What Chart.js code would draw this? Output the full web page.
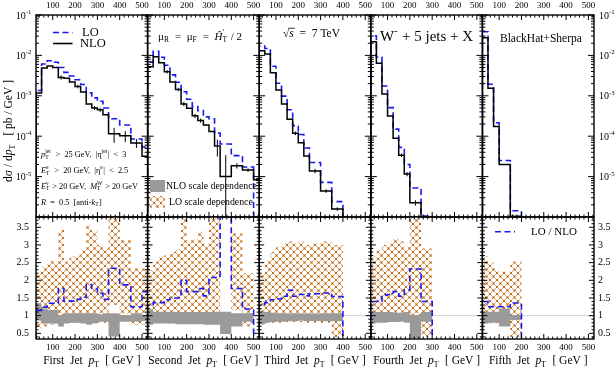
<!DOCTYPE html>
<html>
<head>
<meta charset="utf-8">
<title>W- + 5 jets: jet pT distributions</title>
<script src="https://cdn.jsdelivr.net/npm/chart.js@4.4.1/dist/chart.umd.min.js"></script>
<style>
  html, body { margin: 0; padding: 0; background: #fff; }
  #wrap { position: relative; width: 616px; height: 369px; overflow: hidden; }
  #wrap canvas { position: absolute; left: 0; top: 0; }
</style>
</head>
<body>
<div id="wrap"></div>
<script>
// Axis ranges (GeV on x, pb/GeV on top, LO/NLO on bottom)
const X_MIN = 25, X_MAX = 525;
const TOP_MIN = 1e-6, TOP_MAX = 1e-1;
const RATIO_MIN = 0.34, RATIO_MAX = 3.79;

const jetNames = ['First', 'Second', 'Third', 'Fourth', 'Fifth'];
const xTickLabels = [100, 200, 300, 400, 500];
const ratioTickLabels = [0.5, 1, 1.5, 2, 2.5, 3, 3.5];
const decadeTickLabels = [-5, -4, -3, -2, -1];

// First jet
const jet1Edges = [25, 50, 75, 100, 125, 150, 175, 200, 225, 250, 275, 300, 325, 350, 400, 450, 500, 550];
const jet1Nlo = [1.17e-3, 4.9e-3, 5.5e-3, 5.0e-3, 2.85e-3, 2.7e-3, 2.2e-3, 1.7e-3, 1.25e-3, 6.3e-4, 5.0e-4, 4.5e-4, 3.4e-4, 1.15e-4, 1.02e-4, 6.8e-5, 3.2e-5];
const jet1Lo = [1.35e-3, 6.1e-3, 7.4e-3, 6.75e-3, 5.0e-3, 3.8e-3, 3.1e-3, 2.5e-3, 1.9e-3, 1.18e-3, 8.9e-4, 7.3e-4, 5.0e-4, 2.7e-4, 1.9e-4, 8.5e-5, 5.4e-5];
const jet1Err = [0, 0, 0, 0, 0.12, 0, 0, 0.1, 0, 0, 0.12, 0.12, 0, 0.4, 0.3, 0.25, 0];
const jet1Ratio = [1.15, 1.24, 1.35, 1.35, 1.77, 1.41, 1.41, 1.46, 1.52, 1.88, 1.77, 1.63, 1.46, 2.34, 1.87, 1.25, 1.68];
const jet1NloBandHi = [1.35, 1.2, 1.16, 1.16, 1.02, 1.07, 1.07, 1.07, 1.07, 1.07, 1.07, 1.04, 1.07, 1.07, 1.02, 1.07, 1.02];
const jet1NloBandLo = [0.86, 0.78, 0.78, 0.78, 0.69, 0.78, 0.8, 0.8, 0.78, 0.74, 0.78, 0.83, 0.83, 0.41, 0.83, 0.83, 0.85];
const jet1LoBandHi = [2.24, 2.38, 2.57, 2.53, 3.42, 2.53, 2.67, 2.71, 2.85, 3.56, 3.42, 3.0, 2.9, 3.9, 3.14, 2.34, 2.34];
const jet1LoBandLo = [0.64, 0.69, 0.74, 0.74, 0.88, 0.8, 0.8, 0.8, 0.8, 0.8, 0.8, 0.8, 0.8, 1.3, 1.05, 0.74, 0.74];

// Second jet
const jet2Edges = [25, 50, 75, 100, 125, 150, 175, 200, 225, 250, 275, 300, 325, 350, 400, 450, 500, 550];
const jet2Nlo = [5.2e-3, 9.3e-3, 6.6e-3, 3.96e-3, 2.2e-3, 1.44e-3, 6.3e-4, 4.9e-4, 3.2e-4, 2.45e-4, 1.9e-4, 1.3e-4, 5.7e-5, 1.0e-5, 1.86e-5, 1.45e-5, 8.3e-6];
const jet2Lo = [6.8e-3, 1.27e-2, 9.0e-3, 5.7e-3, 3.3e-3, 2.16e-3, 1.26e-3, 8.2e-4, 5.4e-4, 4.3e-4, 3.0e-4, 2.7e-4, 1.19e-4, 6.4e-5, 3.3e-5, 1.73e-5, null];
const jet2Err = [0, 0, 0, 0.1, 0, 0.1, 0.12, 0, 0.12, 0.12, 0, 0, 0.45, 2.4, 0.15, 0.1, 0];
const jet2Ratio = [1.3, 1.37, 1.37, 1.45, 1.5, 1.5, 2.0, 1.68, 1.68, 1.77, 1.56, 2.08, 2.08, 6.4, 1.77, 1.19, null];
const jet2NloBandHi = [1.18, 1.11, 1.11, 1.11, 1.11, 1.1, 1.1, 1.1, 1.1, 1.1, 1.1, 1.1, 1.11, 1.11, 1.07, 1.07, null];
const jet2NloBandLo = [0.74, 0.78, 0.78, 0.78, 0.78, 0.76, 0.76, 0.76, 0.76, 0.76, 0.74, 0.74, 0.74, 0.48, 0.69, 0.83, null];
const jet2LoBandHi = [2.29, 2.53, 2.67, 2.71, 2.8, 2.87, 3.9, 3.14, 3.16, 3.37, 3.04, 3.9, 3.9, null, 3.33, 2.2, null];
const jet2LoBandLo = [0.75, 0.78, 0.78, 0.78, 0.78, 0.78, 0.8, 0.8, 0.8, 0.8, 0.8, 0.8, 0.8, null, 1.15, 0.69, null];

// Third jet
const jet3Edges = [25, 50, 75, 100, 125, 150, 175, 200, 225, 250, 300, 350, 400];
const jet3Nlo = [1.31e-2, 1.08e-2, 3.73e-3, 1.39e-3, 6.3e-4, 2.63e-4, 1.18e-4, 6.9e-5, 3.24e-5, 1.38e-5, 4.4e-6, 1.58e-6];
const jet3Lo = [1.7e-2, 1.48e-2, 5.4e-3, 2.04e-3, 9.8e-4, 4.5e-4, 1.83e-4, 1.1e-4, 5.1e-5, 2.24e-5, 7.2e-6, 2.4e-6];
const jet3Err = [0, 0, 0, 0, 0, 0, 0.1, 0, 0, 0.12, 0.1, 0.1];
const jet3Ratio = [1.3, 1.37, 1.45, 1.47, 1.55, 1.72, 1.55, 1.6, 1.56, 1.62, 1.64, 1.54];
const jet3NloBandHi = [1.12, 1.1, 1.08, 1.07, 1.07, 1.06, 1.07, 1.06, 1.06, 1.06, 1.07, 1.07];
const jet3NloBandLo = [0.76, 0.8, 0.82, 0.83, 0.83, 0.84, 0.84, 0.86, 0.84, 0.85, 0.84, 0.84];
const jet3LoBandHi = [2.2, 2.55, 2.8, 2.95, 3.05, 3.1, 3.05, 3.1, 3.0, 3.05, 3.1, 3.0];
const jet3LoBandLo = [0.75, 0.78, 0.8, 0.8, 0.82, 0.82, 0.82, 0.82, 0.8, 0.8, 0.8, 0.4];

// Fourth jet
const jet4Edges = [25, 50, 75, 100, 125, 150, 175, 200, 250, 300];
const jet4Nlo = [2.19e-2, 6.4e-3, 1.11e-3, 3.16e-4, 8.9e-5, 3.4e-5, 1.16e-5, 2.26e-6, 7.5e-7];
const jet4Lo = [3.07e-2, 9.0e-3, 1.75e-3, 5.1e-4, 1.5e-4, 5.3e-5, 2.0e-5, 5.2e-6, 1.05e-6];
const jet4Err = [0, 0, 0, 0, 0, 0.1, 0.12, 0.15, 0];
const jet4Ratio = [1.4, 1.4, 1.58, 1.6, 1.68, 1.55, 1.73, 2.32, 1.4];
const jet4NloBandHi = [1.11, 1.1, 1.1, 1.1, 1.08, 1.08, 1.1, 1.02, 1.1];
const jet4NloBandLo = [0.78, 0.8, 0.8, 0.82, 0.82, 0.83, 0.8, 0.36, 0.83];
const jet4LoBandHi = [2.67, 2.85, 3.0, 3.04, 3.18, 3.1, 2.95, 3.9, 2.9];
const jet4LoBandLo = [0.8, 0.83, 0.83, 0.83, 0.83, 0.83, 0.83, 0.85, 0.4];

// Fifth jet
const jet5Edges = [25, 50, 75, 100, 150, 200];
const jet5Nlo = [2.75e-2, 1.54e-3, 1.73e-4, 2.0e-5, 1.05e-6];
const jet5Lo = [3.85e-2, 1.93e-3, 2.16e-4, 2.5e-5, 1.43e-6];
const jet5Err = [0, 0, 0, 0, 0];
const jet5Ratio = [1.4, 1.25, 1.25, 1.25, 1.36];
const jet5NloBandHi = [1.11, 1.11, 1.11, 1.2, 1.02];
const jet5NloBandLo = [0.78, 0.8, 0.8, 0.69, 0.88];
const jet5LoBandHi = [2.67, 2.5, 2.35, 2.25, 2.53];
const jet5LoBandLo = [0.78, 0.78, 0.78, 0.78, 0.4];

const jets = [
  {edges: jet1Edges, nlo: jet1Nlo, lo: jet1Lo, err: jet1Err, ratio: jet1Ratio, nloHi: jet1NloBandHi, nloLo: jet1NloBandLo, loHi: jet1LoBandHi, loLo: jet1LoBandLo},
  {edges: jet2Edges, nlo: jet2Nlo, lo: jet2Lo, err: jet2Err, ratio: jet2Ratio, nloHi: jet2NloBandHi, nloLo: jet2NloBandLo, loHi: jet2LoBandHi, loLo: jet2LoBandLo},
  {edges: jet3Edges, nlo: jet3Nlo, lo: jet3Lo, err: jet3Err, ratio: jet3Ratio, nloHi: jet3NloBandHi, nloLo: jet3NloBandLo, loHi: jet3LoBandHi, loLo: jet3LoBandLo},
  {edges: jet4Edges, nlo: jet4Nlo, lo: jet4Lo, err: jet4Err, ratio: jet4Ratio, nloHi: jet4NloBandHi, nloLo: jet4NloBandLo, loHi: jet4LoBandHi, loLo: jet4LoBandLo},
  {edges: jet5Edges, nlo: jet5Nlo, lo: jet5Lo, err: jet5Err, ratio: jet5Ratio, nloHi: jet5NloBandHi, nloLo: jet5NloBandLo, loHi: jet5LoBandHi, loLo: jet5LoBandLo},
];

// layout of the 5 x 2 grid of panels
const PANEL_LEFT = 36, PANEL_W = 111.6;
const TOP_Y = 15, MID_Y = 217, BOTTOM_Y = 339;
const W = 616, H = 369;

const BLUE = 'rgb(25, 25, 245)';
const GRAY = 'rgb(154, 154, 154)';
const SERIF = '"Liberation Serif", "Times New Roman", serif';
const DASH = [6, 3.5];

Chart.defaults.animation = false;
const wrap = document.getElementById('wrap');

// orange dotted cross-hatch for the LO scale band
function makeHatch() {
  const c = document.createElement('canvas');
  c.width = 7; c.height = 7;
  const g = c.getContext('2d');
  g.fillStyle = '#fff';
  g.fillRect(0, 0, 7, 7);
  g.strokeStyle = 'rgb(228, 164, 98)';
  g.lineWidth = 0.9;
  g.beginPath();
  g.moveTo(0, 0); g.lineTo(7, 7);
  g.moveTo(7, 0); g.lineTo(0, 7);
  g.stroke();
  g.fillStyle = 'rgb(190, 108, 28)';
  g.fillRect(2.5, 2.5, 2, 2);
  g.fillRect(0, 0, 1, 1); g.fillRect(6, 0, 1, 1);
  g.fillRect(0, 6, 1, 1); g.fillRect(6, 6, 1, 1);
  return g.createPattern(c, 'repeat');
}
const HATCH = makeHatch();

// histogram outline: flat tops joined by vertical steps, dropping to `floor` at the ends
function histPoints(edges, vals, floor) {
  const pts = [];
  let open = false;
  for (let i = 0; i < vals.length; i++) {
    const v = vals[i];
    if (v == null) {
      if (open) pts.push({x: edges[i], y: floor}, {x: edges[i], y: null});
      open = false;
      continue;
    }
    if (!open) pts.push({x: edges[i], y: floor});
    pts.push({x: edges[i], y: v}, {x: edges[i + 1], y: v});
    open = true;
  }
  if (open) pts.push({x: edges[vals.length], y: floor});
  return pts;
}

// closed outline of a band (upper edge forward, lower edge back); missing bins collapse to `cap`
function bandPoints(edges, hi, lo, cap) {
  const up = [], down = [];
  for (let i = 0; i < hi.length; i++) {
    const h = hi[i] == null ? cap : hi[i];
    const l = lo[i] == null ? cap : lo[i];
    up.push({x: edges[i], y: h}, {x: edges[i + 1], y: h});
    down.push({x: edges[i], y: l}, {x: edges[i + 1], y: l});
  }
  return up.concat(down.reverse());
}

// vertical error bars at bin centres
function errPoints(edges, vals, errs) {
  const pts = [];
  for (let i = 0; i < vals.length; i++) {
    if (!errs[i] || vals[i] == null) continue;
    const c = (edges[i] + edges[i + 1]) / 2;
    const lo = errs[i] >= 1 ? 1e-8 : vals[i] * (1 - errs[i]);
    pts.push({x: c, y: lo}, {x: c, y: vals[i] * (1 + errs[i])}, {x: c, y: null});
  }
  return pts;
}

// text with italics, sub/superscripts: parts = [[text, mode], ...]
function drawRich(ctx, x, y, parts, size, align) {
  const small = size * 0.68;
  const items = [];
  let w = 0;
  for (const [t, m] of parts) {
    if (m === 'ss') {
      const [lo, hi] = t.split('|');
      ctx.font = small + 'px ' + SERIF;
      const w1 = ctx.measureText(lo).width, w2 = ctx.measureText(hi).width;
      items.push({t: lo, f: ctx.font, x: w, y: size * 0.3});
      items.push({t: hi, f: ctx.font, x: w, y: -size * 0.38});
      w += Math.max(w1, w2) + size * 0.08;
    } else if (m === 'sup' || m === 'sub') {
      ctx.font = small + 'px ' + SERIF;
      items.push({t, f: ctx.font, x: w, y: m === 'sup' ? -size * 0.38 : size * 0.3});
      w += ctx.measureText(t).width + size * 0.05;
    } else {
      ctx.font = (m === 'i' || m === 'ov' ? 'italic ' : '') + size + 'px ' + SERIF;
      const tw = ctx.measureText(t).width;
      items.push({t, f: ctx.font, x: w, y: 0, over: m === 'ov' ? tw : 0});
      w += tw;
    }
  }
  const x0 = align === 'center' ? x - w / 2 : align === 'right' ? x - w : x;
  ctx.textAlign = 'left';
  ctx.textBaseline = 'middle';
  for (const it of items) {
    ctx.font = it.f;
    ctx.fillText(it.t, x0 + it.x, y + it.y);
    if (it.over) {
      ctx.beginPath();
      ctx.lineWidth = 0.8;
      ctx.moveTo(x0 + it.x - 1, y - size * 0.5);
      ctx.lineTo(x0 + it.x + it.over + 1, y - size * 0.5);
      ctx.stroke();
    }
  }
}

// frame with inward ticks on all four sides, plus outer tick labels
function framePlugin(col, kind) {
  return {
    id: 'frame',
    beforeDatasetsDraw(chart) {
      if (kind !== 'ratio') return;
      const {ctx, chartArea: a, scales: {y}} = chart;
      const py = y.getPixelForValue(1);
      ctx.save();
      ctx.strokeStyle = '#d0d0d0';
      ctx.lineWidth = 1;
      ctx.beginPath();
      ctx.moveTo(a.left, py);
      ctx.lineTo(a.right, py);
      ctx.stroke();
      ctx.restore();
    },
    afterDraw(chart) {
      const {ctx, chartArea: a, scales: {x, y}} = chart;
      ctx.save();
      ctx.strokeStyle = '#000';
      ctx.fillStyle = '#000';
      ctx.lineWidth = 1;
      ctx.beginPath();
      for (let g = 40; g < X_MAX; g += 20) {
        const px = x.getPixelForValue(g);
        const len = g % 100 === 0 ? 5 : 2.5;
        ctx.moveTo(px, a.top); ctx.lineTo(px, a.top + len);
        ctx.moveTo(px, a.bottom); ctx.lineTo(px, a.bottom - len);
      }
      const yt = [];
      if (kind === 'top') {
        for (let e = -6; e <= -1; e++) {
          yt.push([Math.pow(10, e), 6]);
          if (e < -1) for (let k = 2; k < 10; k++) yt.push([k * Math.pow(10, e), 3]);
        }
      } else {
        for (let i = 4; i <= 37; i++) yt.push([i / 10, i % 5 === 0 ? 5 : 2.5]);
      }
      for (const [v, len] of yt) {
        const py = y.getPixelForValue(v);
        ctx.moveTo(a.left, py); ctx.lineTo(a.left + len, py);
        ctx.moveTo(a.right, py); ctx.lineTo(a.right - len, py);
      }
      ctx.stroke();
      ctx.lineWidth = 1.4;
      ctx.strokeRect(a.left, a.top, a.right - a.left, a.bottom - a.top);

      // tick labels
      ctx.textAlign = 'center';
      ctx.textBaseline = 'middle';
      ctx.font = '9px ' + SERIF;
      for (const t of xTickLabels) {
        const px = x.getPixelForValue(t);
        ctx.fillText(String(t), px, kind === 'top' ? a.top - 9.5 : a.bottom + 8.5);
      }
      if (kind === 'top') {
        for (const e of decadeTickLabels) {
          const py = y.getPixelForValue(Math.pow(10, e)) + 1;
          if (col === 0) drawRich(ctx, 32, py, [['10'], [String(e), 'sup']], 10, 'right');
          if (col === 4) drawRich(ctx, 599, py, [['10'], [String(e), 'sup']], 10, 'left');
        }
      } else {
        ctx.font = '10px ' + SERIF;
        for (const v of ratioTickLabels) {
          const py = y.getPixelForValue(v);
          if (col === 0) { ctx.textAlign = 'right'; ctx.fillText(String(v), 29, py); }
          if (col === 4) { ctx.textAlign = 'left'; ctx.fillText(String(v), 598, py); }
        }
        drawRich(ctx, (a.left + a.right) / 2, a.bottom + 22,
          [[jetNames[col] + '  Jet  '], ['p', 'i'], ['T', 'sub'], ['  [ GeV ]']], 11.5, 'center');
      }
      ctx.restore();
    }
  };
}

function makePanel(col, kind, datasets, notes) {
  const cv = document.createElement('canvas');
  cv.width = W; cv.height = H;
  cv.style.width = W + 'px'; cv.style.height = H + 'px';
  wrap.appendChild(cv);
  const left = PANEL_LEFT + col * PANEL_W;
  const right = left + PANEL_W;
  const top = kind === 'top' ? TOP_Y : MID_Y;
  const bottom = kind === 'top' ? MID_Y : BOTTOM_Y;
  const yScale = kind === 'top'
    ? {type: 'logarithmic', min: TOP_MIN, max: TOP_MAX, display: false}
    : {type: 'linear', min: RATIO_MIN, max: RATIO_MAX, display: false};
  return new Chart(cv, {
    type: 'line',
    data: {datasets},
    options: {
      responsive: false,
      maintainAspectRatio: false,
      devicePixelRatio: 1,
      events: [],
      layout: {padding: {left, top, right: W - right, bottom: H - bottom}},
      scales: {
        x: {type: 'linear', min: X_MIN, max: X_MAX, display: false},
        y: yScale
      },
      elements: {point: {radius: 0}, line: {tension: 0}},
      plugins: {legend: {display: false}, tooltip: {enabled: false}}
    },
    plugins: [framePlugin(col, kind), {id: 'notes', afterDraw: (chart) => { if (notes) { const c = chart.ctx; c.save(); notes(c); c.restore(); } }}]
  });
}

// extra labels inside the panels
const topNotes = [
  (ctx) => {
    ctx.fillStyle = '#000';
    ctx.save();
    ctx.translate(9, 131);
    ctx.rotate(-Math.PI / 2);
    drawRich(ctx, 0, 0, [['dσ / d'], ['p', 'i'], ['T', 'sub'], ['   [ pb / GeV ]']], 11.5, 'center');
    ctx.restore();
    ctx.lineWidth = 1.6;
    ctx.strokeStyle = BLUE;
    ctx.setLineDash(DASH);
    ctx.beginPath(); ctx.moveTo(53, 32.5); ctx.lineTo(72.5, 32.5); ctx.stroke();
    ctx.setLineDash([]);
    ctx.strokeStyle = '#000';
    ctx.beginPath(); ctx.moveTo(53, 43.5); ctx.lineTo(72.5, 43.5); ctx.stroke();
    drawRich(ctx, 82, 32.5, [['LO']], 12.5, 'left');
    drawRich(ctx, 80, 43.5, [['NLO']], 12.5, 'left');
    const s = 8.3;
    drawRich(ctx, 41, 155, [['p', 'i'], ['T|jet', 'ss'], ['  >  25 GeV,  |η'], ['jet', 'sup'], ['|  <  3']], s, 'left');
    drawRich(ctx, 41, 171, [['E', 'i'], ['T|e', 'ss'], ['  >  20 GeV,  |η'], ['e', 'sup'], ['|  <  2.5']], s, 'left');
    drawRich(ctx, 41, 186.5, [['E', 'i'], ['T|ν', 'ss'], [' > 20 GeV,  '], ['M', 'i'], ['T|W', 'ss'], [' > 20 GeV']], s, 'left');
    drawRich(ctx, 41, 202.5, [['R', 'i'], ['  =  0.5  [anti-'], ['k', 'i'], ['T', 'sub'], [']']], s, 'left');
  },
  (ctx) => {
    ctx.fillStyle = '#000';
    drawRich(ctx, 200, 37, [['μ'], ['R', 'sub'], ['  =  μ'], ['F', 'sub'], ['  =  '], ['Ĥ', 'i'], ['T|′', 'ss'], [' / 2']], 11, 'center');
    ctx.fillStyle = GRAY;
    ctx.fillRect(150, 180, 15, 12);
    ctx.fillStyle = HATCH;
    ctx.fillRect(150, 196, 15, 12);
    ctx.fillStyle = '#000';
    drawRich(ctx, 166, 186, [['NLO scale dependence']], 9.8, 'left');
    drawRich(ctx, 169, 202, [['LO scale dependence']], 9.8, 'left');
  },
  (ctx) => {
    ctx.fillStyle = '#000';
    ctx.strokeStyle = '#000';
    drawRich(ctx, 283, 34, [['√'], ['s', 'ov'], ['  =  7 TeV']], 11.5, 'left');
  },
  (ctx) => {
    ctx.fillStyle = '#000';
    drawRich(ctx, 380, 37, [['W'], ['-', 'sup'], [' + 5 jets + X']], 15, 'left');
  },
  (ctx) => {
    ctx.fillStyle = '#000';
    drawRich(ctx, 500, 38.5, [['BlackHat+Sherpa']], 11.5, 'left');
  }
];

const ratioNotes = [null, null, null, null,
  (ctx) => {
    ctx.lineWidth = 1.6;
    ctx.strokeStyle = BLUE;
    ctx.setLineDash(DASH);
    ctx.beginPath(); ctx.moveTo(495, 231.7); ctx.lineTo(515, 231.7); ctx.stroke();
    ctx.setLineDash([]);
    ctx.fillStyle = '#000';
    drawRich(ctx, 531, 231.7, [['LO / NLO']], 11, 'left');
  }
];

jets.forEach((jet, col) => {
  makePanel(col, 'top', [
    {data: histPoints(jet.edges, jet.nlo, 1e-8), borderColor: '#000', borderWidth: 1.5, fill: false, clip: 0},
    {data: histPoints(jet.edges, jet.lo, 1e-8), borderColor: BLUE, borderWidth: 1.6, borderDash: DASH, fill: false, clip: 0},
    {data: errPoints(jet.edges, jet.nlo, jet.err), borderColor: '#000', borderWidth: 1, fill: false, clip: 0}
  ], topNotes[col]);

  makePanel(col, 'ratio', [
    {data: histPoints(jet.edges, jet.ratio, 0.1), borderColor: BLUE, borderWidth: 1.6, borderDash: DASH, fill: false, clip: 0},
    {data: bandPoints(jet.edges, jet.nloHi, jet.nloLo, 5), borderColor: 'rgba(0,0,0,0)', borderWidth: 0, backgroundColor: GRAY, fill: 'shape', clip: 0},
    {data: bandPoints(jet.edges, jet.loHi, jet.loLo, 5), borderColor: 'rgba(0,0,0,0)', borderWidth: 0, backgroundColor: HATCH, fill: 'shape', clip: 0}
  ], ratioNotes[col]);
});
</script>
</body>
</html>
